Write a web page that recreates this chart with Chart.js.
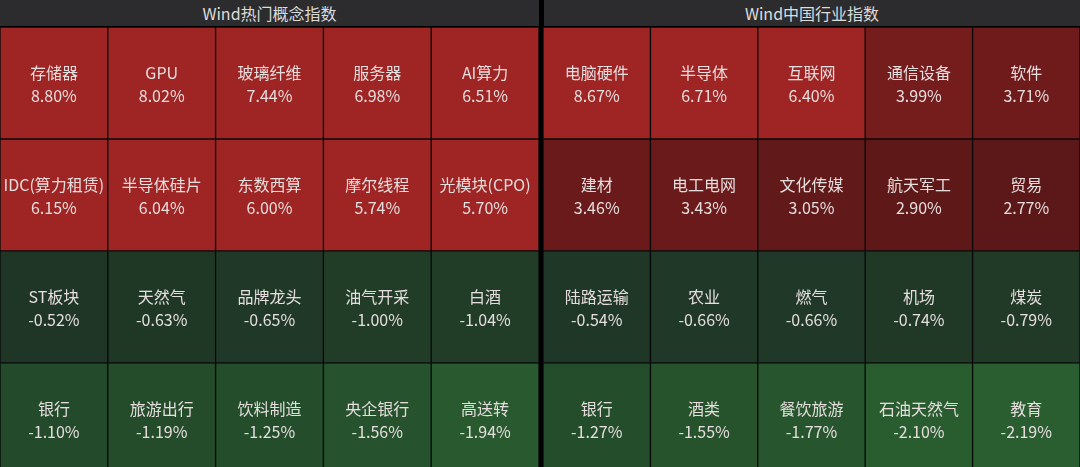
<!DOCTYPE html>
<html><head><meta charset="utf-8">
<script src="https://cdn.jsdelivr.net/npm/chart.js@4/dist/chart.umd.min.js"></script>
<style>
html,body{margin:0;padding:0;background:#000;width:1080px;height:467px;overflow:hidden;font-family:"Noto Sans CJK SC","Noto Sans",sans-serif}
.h{position:absolute;top:0;height:26px;background:#2c2c2e;color:#dcdcdc;font-size:16px;line-height:26px;text-align:center}
.c{position:absolute;top:27px;height:440px}
</style></head><body>
<div class="h" style="left:0;width:539px">Wind热门概念指数</div>
<div class="h" style="left:544px;width:536px">Wind中国行业指数</div>
<div class="c" style="left:0;width:539px"><canvas id="a"></canvas></div>
<div class="c" style="left:543px;width:537px"><canvas id="b"></canvas></div>
<script>
const conceptNames = [
 ["存储器","GPU","玻璃纤维","服务器","AI算力"],
 ["IDC(算力租赁)","半导体硅片","东数西算","摩尔线程","光模块(CPO)"],
 ["ST板块","天然气","品牌龙头","油气开采","白酒"],
 ["银行","旅游出行","饮料制造","央企银行","高送转"]];
const conceptValues = [
 [8.80,8.02,7.44,6.98,6.51],
 [6.15,6.04,6.00,5.74,5.70],
 [-0.52,-0.63,-0.65,-1.00,-1.04],
 [-1.10,-1.19,-1.25,-1.56,-1.94]];
const industryNames = [
 ["电脑硬件","半导体","互联网","通信设备","软件"],
 ["建材","电工电网","文化传媒","航天军工","贸易"],
 ["陆路运输","农业","燃气","机场","煤炭"],
 ["银行","酒类","餐饮旅游","石油天然气","教育"]];
const industryValues = [
 [8.67,6.71,6.40,3.99,3.71],
 [3.46,3.43,3.05,2.90,2.77],
 [-0.54,-0.66,-0.66,-0.74,-0.79],
 [-1.27,-1.55,-1.77,-2.10,-2.19]];
const colLabels = ["c1","c2","c3","c4","c5"];

function mix(a,b,t){t=Math.max(0,Math.min(1,t));return 'rgb('+a.map((x,i)=>Math.round(x+(b[i]-x)*t)).join(',')+')';}
function colorFor(v, panel, row){
  if(v>0){
    if(v>=5) return '#9f2424';
    return mix([92,24,24],[118,28,28],(v-2.75)/1.3);
  }
  if(row===2) return mix([31,54,38],[33,62,40],(-v-0.5)/0.6);
  return mix([35,74,42],[42,94,48],(-v-1.1)/1.1);
}
const labelPlugin={id:'lbl',afterDatasetsDraw(chart){
  const ctx=chart.ctx, names=chart.options.plugins.lbl.names, vals=chart.options.plugins.lbl.vals;
  chart.data.datasets.forEach((ds,r)=>{
    chart.getDatasetMeta(r).data.forEach((el,c)=>{
      const cy=(el.y+el.base)/2;
      ctx.save();ctx.fillStyle='#e6dede';ctx.textAlign='center';ctx.textBaseline='middle';
      ctx.font='16px "Noto Sans CJK SC","Noto Sans",sans-serif';
      ctx.fillText(names[r][c],el.x,cy-10);
      ctx.fillText(vals[r][c].toFixed(2)+'%',el.x,cy+13);
      ctx.restore();
    });
  });
}};
function make(id,names,vals,panel){
  new Chart(document.getElementById(id),{type:'bar',
    data:{labels:colLabels,datasets:vals.map((row,r)=>({
      data:row.map(()=>[r,r+1]),
      backgroundColor:row.map(v=>colorFor(v,panel,r)),
      borderColor:'#0a0a0a',borderWidth:1,borderSkipped:false,
      grouped:false,barPercentage:1,categoryPercentage:1}))},
    options:{responsive:true,maintainAspectRatio:false,animation:false,
      layout:{padding:0},
      scales:{x:{display:false},y:{display:false,min:0,max:3.93,reverse:true}},
      plugins:{legend:{display:false},tooltip:{enabled:false},lbl:{names,vals}}},
    plugins:[labelPlugin]});
}
make('a',conceptNames,conceptValues,0);
make('b',industryNames,industryValues,1);
</script></body></html>
